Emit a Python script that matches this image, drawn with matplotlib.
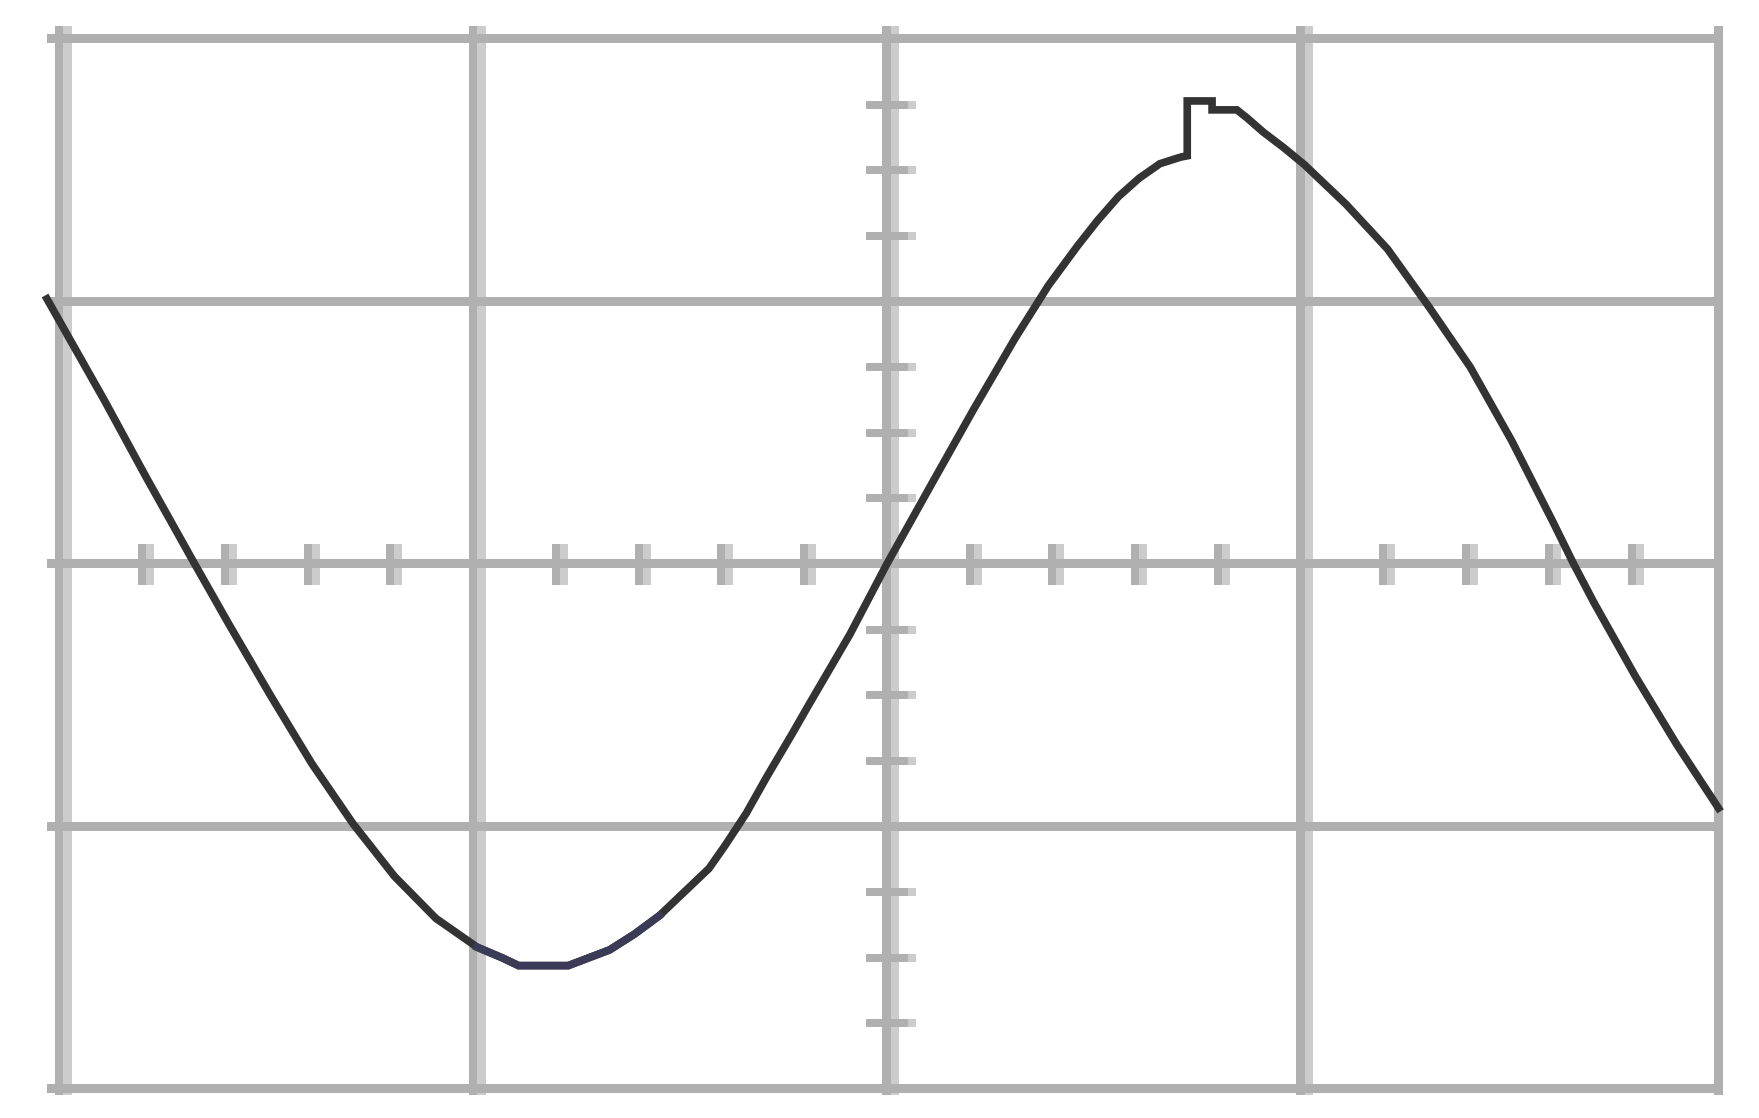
"""Oscilloscope style trace on a 4 x 4 division graticule."""

import matplotlib

matplotlib.use("Agg")
import matplotlib.pyplot as plt
from matplotlib.patches import Rectangle

# graticule: 4 divisions each way, centre axes carry minor ticks
X_DIVS = [0, 1, 2, 3, 4]
Y_DIVS = [-2, -1, 0, 1, 2]
X_MINOR = [k * 0.2 for k in range(1, 20) if k % 5 != 0]
Y_MINOR = [k * 0.25 - 2 for k in range(1, 16) if k % 4 != 0]

# trace in divisions
trace_x = [
    -0.04, 0.10, 0.20, 0.31, 0.40, 0.50, 0.60, 0.70, 0.80, 0.90,
    1.00, 1.06, 1.10, 1.22, 1.27, 1.32, 1.38, 1.44, 1.50, 1.56,
    1.60, 1.65, 1.70, 1.76, 1.80, 1.90, 1.99, 2.10, 2.20, 2.30,
    2.38, 2.45, 2.50, 2.55, 2.60, 2.65, 2.70, 2.716, 2.716, 2.776,
    2.776, 2.836, 2.86, 2.90, 2.95, 3.00, 3.10, 3.20, 3.30, 3.40,
    3.50, 3.60, 3.65, 3.70, 3.80, 3.90, 4.00,
]
trace_y = [
    1.01, 0.62, 0.33, 0.02, -0.23, -0.50, -0.76, -0.99, -1.19, -1.35,
    -1.46, -1.50, -1.53, -1.53, -1.50, -1.47, -1.41, -1.34, -1.25, -1.16,
    -1.07, -0.95, -0.81, -0.65, -0.54, -0.27, 0.00, 0.31, 0.59, 0.86,
    1.06, 1.21, 1.31, 1.40, 1.47, 1.525, 1.55, 1.555, 1.764, 1.764,
    1.73, 1.73, 1.70, 1.645, 1.585, 1.52, 1.37, 1.20, 0.98, 0.75,
    0.47, 0.16, 0.00, -0.15, -0.43, -0.69, -0.93,
]

DARK = "#b0b0b0"
LIGHT = "#cccccc"

fig = plt.figure(figsize=(17.59, 11.18), dpi=100)
ax = fig.add_axes([0, 0, 1, 1])
ax.set_xlim(-0.15347, 4.09789)
ax.set_ylim(-2.1105, 2.14857)
ax.axis("off")

# size of one screen pixel in data units
px = 1 / 413.75
py = 1 / 262.5

top, bottom = 2.05, -2.023
left, right = -0.04, 4.011

# vertical division lines, two-tone except the right edge
for x in X_DIVS:
    if x == X_DIVS[-1]:
        ax.add_patch(Rectangle((x - 4.5 * px, bottom), 9 * px, top - bottom,
                               color=DARK, lw=0, zorder=1))
        continue
    ax.add_patch(Rectangle((x - 8.5 * px, bottom), 8.5 * px, top - bottom,
                           color=DARK, lw=0, zorder=1))
    ax.add_patch(Rectangle((x, bottom), 8.5 * px, top - bottom,
                           color=LIGHT, lw=0, zorder=1))

# minor ticks on the centre horizontal line
for x in X_MINOR:
    ax.add_patch(Rectangle((x - 8 * px, -21 * py), 8 * px, 41 * py,
                           color=DARK, lw=0, zorder=1))
    ax.add_patch(Rectangle((x, -21 * py), 8 * px, 41 * py,
                           color=LIGHT, lw=0, zorder=1))

# horizontal division lines
for y in Y_DIVS:
    ax.add_patch(Rectangle((left, y - 4.5 * py), right - left, 9 * py,
                           color=DARK, lw=0, zorder=2))

# minor ticks on the centre vertical line
for y in Y_MINOR:
    ax.add_patch(Rectangle((2 - 25 * px, y - 4 * py), 42 * px, 8 * py,
                           color=DARK, lw=0, zorder=2))
    ax.add_patch(Rectangle((2 + 17 * px, y - 4 * py), 8 * px, 8 * py,
                           color=LIGHT, lw=0, zorder=2))

ax.plot(trace_x, trace_y, color="#333333", lw=5.5, zorder=3,
        solid_joinstyle="miter")

# the trough of the trace has a slight blue cast
low = [i for i, x in enumerate(trace_x) if 1.0 <= x <= 1.44]
ax.plot([trace_x[i] for i in low], [trace_y[i] for i in low],
        color="#3b3b58", lw=5.5, zorder=4, solid_joinstyle="miter")

fig.savefig("out.png", dpi=100)
